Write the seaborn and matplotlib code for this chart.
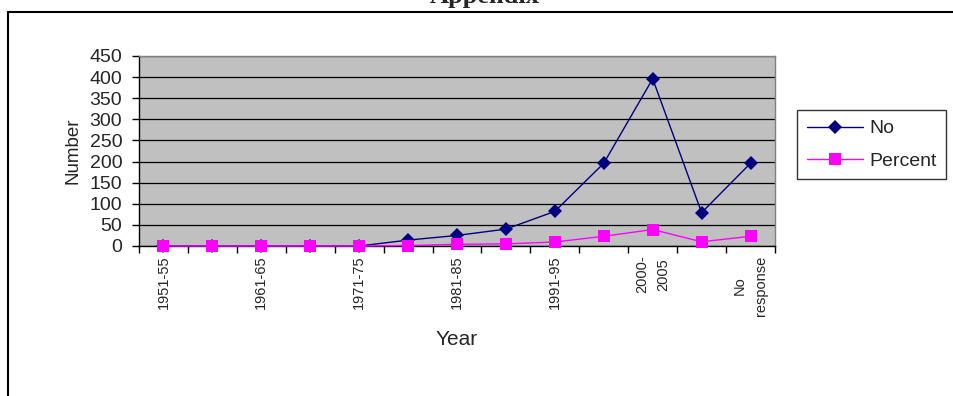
import numpy as np
import pandas as pd
import matplotlib
matplotlib.use("Agg")
import matplotlib.pyplot as plt
from matplotlib.lines import Line2D
import seaborn as sns

# data
years = ["1951-55", "1956-60", "1961-65", "1966-70", "1971-75", "1976-80",
         "1981-85", "1986-90", "1991-95", "1996-99", "2000-\n2005", "After 2005",
         "No\nresponse"]
no_vals = [0, 0, 0, 0, 0, 14, 25, 40, 82, 196, 396, 79, 196]
pct_vals = [0, 0, 0, 0, 0, 1, 4, 5, 9.5, 23, 39, 10, 23]
series = ["No", "Percent"]
colors = {"No": "#000080", "Percent": "#FF00FF"}

df = pd.DataFrame({
    "Year": years * 2,
    "value": no_vals + pct_vals,
    "series": ["No"] * len(years) + ["Percent"] * len(years),
})

sns.set_style("white")
plt.rcParams["font.family"] = ["Liberation Sans", "DejaVu Sans"]

fig = plt.figure(figsize=(9.54, 3.96), dpi=100)
ax = fig.add_axes([139 / 954, 1 - 246 / 396, 636 / 954, 190 / 396])
ax.set_facecolor("#C0C0C0")

sns.lineplot(data=df, x="Year", y="value", hue="series", style="series",
             markers={"No": "D", "Percent": "s"}, dashes=False,
             palette=colors, markersize=7.5, markeredgewidth=0,
             linewidth=1.0, sort=False, legend=False, ax=ax)
# squares are a bit bigger than the diamonds, markers sit over the axis
ax.lines[1].set_markersize(8)
for ln in ax.lines[:2]:
    ln.set_clip_on(False)
    ln.set_zorder(3)

ax.set_ylim(0, 450)
ax.set_xlim(-0.5, len(years) - 0.5)
ax.set_yticks(np.arange(0, 451, 50))
ax.yaxis.grid(True, color="black", linewidth=0.9)
ax.set_axisbelow(True)

# ticks between categories, labels on every other one
ax.set_xticks(np.arange(-0.5, len(years), 1))
ax.set_xticklabels([])
ax.set_xticks(np.arange(0, len(years), 2), minor=True)
ax.set_xticklabels(years[::2], minor=True, rotation=90, fontsize=10.5,
                   va="top", ha="center", multialignment="center",
                   linespacing=1.6)
ax.tick_params(axis="x", which="major", direction="out", length=5, width=1,
               color="black", bottom=True)
ax.tick_params(axis="x", which="minor", length=0, pad=7, bottom=True)
ax.tick_params(axis="y", direction="out", length=5, width=1, color="black",
               labelsize=14, pad=7, left=True)

for side in ["top", "right"]:
    ax.spines[side].set_color("#808080")
    ax.spines[side].set_linewidth(1)
for side in ["left", "bottom"]:
    ax.spines[side].set_color("black")
    ax.spines[side].set_linewidth(1)

ax.set_ylabel("Number", fontsize=13.5, labelpad=6)
ax.set_xlabel("Year", fontsize=15, labelpad=10)

handles = ax.lines[:2]
leg = fig.legend(handles, series, loc="upper left",
                 bbox_to_anchor=(797 / 954, 1 - 110 / 396),
                 fontsize=14, frameon=True, fancybox=False, edgecolor="black",
                 handlelength=2.9, numpoints=1, borderpad=0.5,
                 labelspacing=0.75, handletextpad=0.3, borderaxespad=0)
leg.get_frame().set_linewidth(1)

# outer box and cut-off heading
fig.add_artist(Line2D([8 / 954, 8 / 954], [-0.1, 1 - 12 / 396],
                      color="black", linewidth=1.5))
fig.add_artist(Line2D([8 / 954, 1.1], [1 - 12 / 396, 1 - 12 / 396],
                      color="black", linewidth=1.5))
fig.text(485 / 954, 1 - 3 / 396, "Appendix", ha="center", va="baseline",
         fontsize=19, fontweight="bold", family="Liberation Serif")

fig.savefig("out.png", dpi=100, facecolor="white")
